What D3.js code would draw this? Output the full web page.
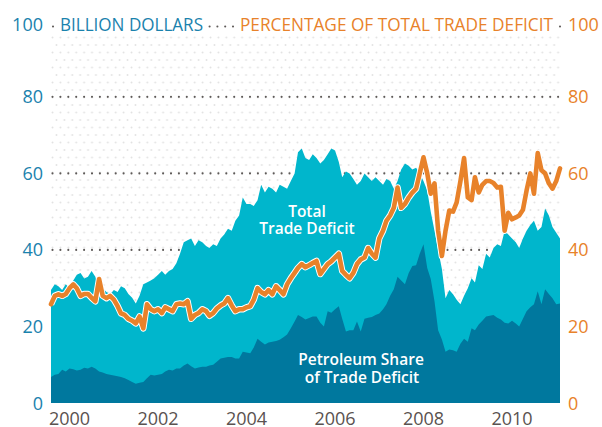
<!DOCTYPE html>
<html>
<head>
<meta charset="utf-8">
<script src="https://cdn.jsdelivr.net/npm/d3@7"></script>
<style>
body { margin: 0; background: #fff; }
text { font-family: "Open Sans", sans-serif; }
</style>
</head>
<body>
<svg id="chart" width="602" height="427"></svg>
<script>
// monthly values, Aug 1999 .. Feb 2011
const startMonth = new Date(1999, 7, 1)

const totalDeficit = [
  29.5, 31, 30.5, 29.5, 31, 30, 32, 33.5, 34, 32.5, 33, 34.5,
  33, 29.5, 30, 29, 28.4, 29.5, 29, 30.5, 30, 28.5, 27.5, 26,
  28, 31, 31.5, 32, 32.6, 33.5, 34.5, 33.5, 34.5, 35, 36.5, 39,
  42, 42.5, 43, 41, 42.5, 42, 41, 40.5, 41.5, 41, 43, 44,
  45.5, 45, 47.6, 49, 53.7, 52, 52, 51.5, 53, 57, 55, 56.5,
  56, 55, 57, 56.5, 56, 58, 60, 65.5, 66.5, 64, 63.5, 65,
  64, 62.6, 63.5, 65, 66.5, 66, 63, 59, 60.5, 60, 58.5, 57,
  58, 60, 59, 58, 59, 58, 57, 58.5, 58, 56, 58, 61,
  62.6, 62, 61, 61.5, 60, 58, 55.5, 50, 45, 40, 35, 27.4,
  29.5, 28.4, 27, 25.8, 28, 30, 32.6, 31.5, 36, 35, 39, 38,
  40.5, 41.5, 41, 45, 44, 43, 42, 40.5, 43, 45, 46.5, 47.6,
  45, 46, 50.8, 49, 46, 44.5, 43
]

const petroleum = [
  6.8, 7.4, 7.6, 8.7, 8.2, 9, 8.8, 8.5, 8.7, 9.2, 9, 9.5,
  9, 8.2, 8, 7.6, 7.4, 7.2, 7, 6.8, 6.5, 6, 5.5, 5,
  5.3, 5.5, 6.5, 7.4, 7.2, 7.4, 7.6, 8.2, 8.7, 8.5, 9, 9,
  9.8, 10.3, 9.6, 9, 9.3, 9.5, 9.5, 9.8, 10, 10.8, 11.6, 11.8,
  12, 12, 11.6, 11.6, 13.4, 13.2, 13, 14.5, 16.8, 16, 15.3, 15.8,
  16, 16.2, 16.5, 17.2, 17.9, 19.5, 21.3, 23, 22.5, 21.8, 22.2, 22.6,
  22.6, 21, 20, 24, 23.6, 24.5, 25.3, 22, 18.7, 19, 19, 21.3,
  18.7, 22, 22.3, 22.5, 23, 23.4, 24.5, 25.8, 28, 29.7, 33, 32,
  31, 34, 35.8, 36, 39, 41.5, 35.3, 32.4, 26.6, 19, 16.6, 13.4,
  14, 13.8, 13.4, 15.5, 16.8, 16, 19.5, 19, 20.5, 21.5, 22.6, 22.8,
  23, 22.3, 21.8, 21, 20.8, 21.5, 20.8, 20, 22, 24, 25, 25.8,
  29.2, 25.8, 29.7, 28.5, 27.4, 25.8, 26
]

const petroleumShare = [
  25.8, 28, 28.4, 28, 28.5, 30, 31, 30, 28, 28.5, 28.5, 27.5,
  26.6, 32.4, 28, 27.4, 28, 27, 25.3, 23.4, 23, 22, 21.5, 20.8,
  22.6, 19.5, 25.8, 24.5, 24, 24.5, 23.5, 25, 24.5, 24, 25.8, 26,
  25.8, 26.6, 22, 23, 23.5, 24.5, 24, 22.8, 23.5, 24.7, 25.5, 26,
  27.4, 25.5, 24, 24.5, 24.5, 25, 25.3, 27, 30, 29, 28.4, 29.5,
  28.4, 30.5, 29.5, 28.4, 31, 32.6, 34, 35.3, 36.3, 35.5, 36, 36.6,
  37.1, 33.7, 35, 36.3, 37, 38, 39, 34.5, 33.5, 32.6, 34, 36.3,
  37.5, 38, 40.5, 39, 38, 43, 45, 47.6, 49, 51, 56.3, 51,
  52, 53.7, 55, 56, 60, 64.2, 60, 54.7, 57.4, 45, 38.4, 45,
  50.3, 50, 52.4, 58, 64, 53.7, 53, 59, 55, 57, 58, 58,
  57.5, 56.3, 56.5, 45, 49.7, 48, 48.5, 49, 50.5, 55.5, 60, 54.7,
  65.3, 60.8, 60, 57.4, 56, 58, 61.3
]

const yTicks = [0, 20, 40, 60, 80]
const yearTicks = [2000, 2002, 2004, 2006, 2008, 2010]

const blue = "#1a82ad"
const orange = "#e8822a"
const lightArea = "#00b6cc"
const darkArea = "#00789e"

const svg = d3.select("#chart")

const months = totalDeficit.map((d, i) => d3.timeMonth.offset(startMonth, i))

const x = d3.scaleTime()
    .domain([months[0], months[months.length - 1]])
    .range([51, 560])

const y = d3.scaleLinear()
    .domain([0, 100])
    .range([403, 20.3])

// background dots
const defs = svg.append("defs")
const dots = defs.append("pattern")
    .attr("id", "bgdots")
    .attr("width", 7.9)
    .attr("height", 15)
    .attr("patternUnits", "userSpaceOnUse")
    .attr("x", 51)
    .attr("y", 36)
dots.append("circle").attr("cx", 1.5).attr("cy", 1.5).attr("r", 0.95).attr("fill", "#e2e2e2")
dots.append("circle").attr("cx", 5.45).attr("cy", 9).attr("r", 0.95).attr("fill", "#e2e2e2")

svg.append("rect")
    .attr("x", 51).attr("y", 36)
    .attr("width", 509).attr("height", 367)
    .attr("fill", "url(#bgdots)")

// dotted gridlines
svg.append("g")
    .selectAll("line")
    .data(yTicks.filter(d => d > 0))
    .join("line")
    .attr("x1", 52.5).attr("x2", 561)
    .attr("y1", d => y(d)).attr("y2", d => y(d))
    .attr("stroke", "#5e5a58")
    .attr("stroke-width", 2.1)
    .attr("stroke-linecap", "round")
    .attr("stroke-dasharray", "0 7.9")

// areas
const totalArea = d3.area()
    .x((d, i) => x(months[i]))
    .y0(y(0))
    .y1(d => y(d))

svg.append("path")
    .datum(totalDeficit)
    .attr("fill", lightArea)
    .attr("d", totalArea)

svg.append("path")
    .datum(petroleum)
    .attr("fill", darkArea)
    .attr("d", totalArea)

// share line
const shareLine = d3.line()
    .x((d, i) => x(months[i]))
    .y(d => y(d))

svg.append("path")
    .datum(petroleumShare)
    .attr("fill", "none")
    .attr("stroke", "#fff")
    .attr("stroke-width", 6.5)
    .attr("stroke-linejoin", "round")
    .attr("d", shareLine)

svg.append("path")
    .datum(petroleumShare)
    .attr("fill", "none")
    .attr("stroke", orange)
    .attr("stroke-width", 4.6)
    .attr("stroke-linejoin", "round")
    .attr("stroke-linecap", "round")
    .attr("d", shareLine)

// area labels, one text per line
const labelLines = [
    { text: "Total", x: 307, y: 217 },
    { text: "Trade Deficit", x: 307, y: 234 },
    { text: "Petroleum Share", x: 361, y: 365 },
    { text: "of Trade Deficit", x: 362, y: 383 }
]
svg.append("g")
    .selectAll("text")
    .data(labelLines)
    .join("text")
    .attr("x", d => d.x)
    .attr("y", d => d.y)
    .attr("text-anchor", "middle")
    .attr("fill", "#fff")
    .attr("font-size", 15.5)
    .attr("font-weight", 600)
    .text(d => d.text)

// left axis
svg.append("g")
    .selectAll("text")
    .data(yTicks)
    .join("text")
    .attr("x", 43)
    .attr("y", d => y(d) + 6.5)
    .attr("text-anchor", "end")
    .attr("font-size", 18)
    .attr("fill", blue)
    .text(d => d)

// right axis
svg.append("g")
    .selectAll("text")
    .data(yTicks)
    .join("text")
    .attr("x", 568)
    .attr("y", d => y(d) + 6.5)
    .attr("font-size", 18)
    .attr("fill", orange)
    .text(d => d)

// x axis labels
svg.append("g")
    .selectAll("text")
    .data(yearTicks)
    .join("text")
    .attr("x", d => x(new Date(d, 0, 1)))
    .attr("y", 425)
    .attr("text-anchor", "middle")
    .attr("font-size", 18)
    .attr("fill", "#5a5250")
    .text(d => d)

// header row (the 100 line)
const headY = 31
svg.append("text").attr("x", 43).attr("y", headY).attr("text-anchor", "end")
    .attr("font-size", 18).attr("fill", blue).text("100")
svg.append("text").attr("x", 568).attr("y", headY)
    .attr("font-size", 18).attr("fill", orange).text("100")
svg.append("text").attr("x", 60).attr("y", headY)
    .attr("font-size", 18).attr("fill", blue)
    .attr("textLength", 143).attr("lengthAdjust", "spacingAndGlyphs")
    .text("BILLION DOLLARS")
svg.append("text").attr("x", 240).attr("y", headY)
    .attr("font-size", 18).attr("fill", orange)
    .attr("textLength", 313).attr("lengthAdjust", "spacingAndGlyphs")
    .text("PERCENTAGE OF TOTAL TRADE DEFICIT")

const headDots = [53, 209.6, 217.4, 225.2, 233, 560]
svg.append("g")
    .selectAll("circle")
    .data(headDots)
    .join("circle")
    .attr("cx", d => d)
    .attr("cy", 26.5)
    .attr("r", 1.05)
    .attr("fill", "#5e5a58")
</script>
</body>
</html>
